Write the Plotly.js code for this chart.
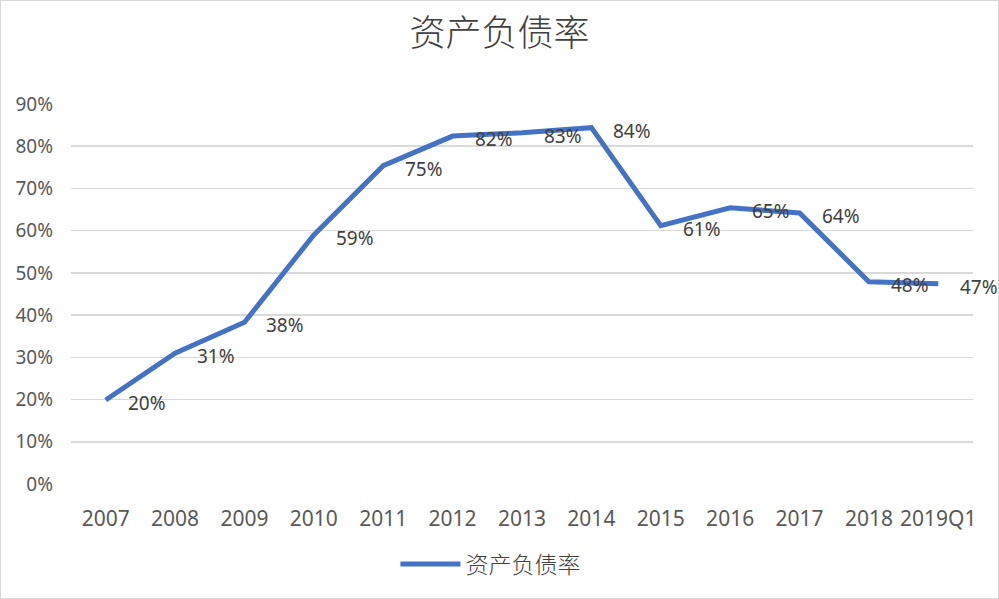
<!DOCTYPE html>
<html>
<head>
<meta charset="utf-8">
<script src="https://cdn.plot.ly/plotly-3.0.1.min.js"></script>
<style>
html,body{margin:0;padding:0;background:#fff;}
#chart{width:997px;height:597px;border:1px solid #d9d9d9;}
</style>
</head>
<body>
<div id="chart"></div>
<script>
const categories = ["2007","2008","2009","2010","2011","2012","2013","2014","2015","2016","2017","2018","2019Q1"];
const debtRatio = [0.199, 0.31, 0.383, 0.59, 0.754, 0.824, 0.832, 0.844, 0.612, 0.654, 0.642, 0.479, 0.474];
const seriesName = "资产负债率";
const chartTitle = "资产负债率";
const yTickVals = [0,0.1,0.2,0.3,0.4,0.5,0.6,0.7,0.8,0.9];
const yTickText = ["0%","10%","20%","30%","40%","50%","60%","70%","80%","90%"];

const labelFont = {family: "Noto Sans, DejaVu Sans, sans-serif", size: 19, color: "#404040"};

const trace = {
  type: "scatter",
  mode: "lines",
  x: categories,
  y: debtRatio,
  name: seriesName,
  line: {color: "#4472C4", width: 5, shape: "linear"},
  hoverinfo: "skip"
};

const annotations = categories.map((c, i) => ({
  x: i, y: debtRatio[i], xref: "x", yref: "y",
  text: Math.round(debtRatio[i] * 100) + "%",
  showarrow: false, xanchor: "left", yanchor: "middle",
  xshift: 20, yshift: -3,
  font: labelFont
}));

const layout = {
  width: 997, height: 597,
  paper_bgcolor: "#ffffff", plot_bgcolor: "#ffffff",
  margin: {l: 70, r: 25, t: 103, b: 114},
  title: {
    text: chartTitle,
    x: 0.5, xanchor: "center", y: 0.945, yanchor: "middle",
    font: {family: "Noto Sans CJK SC, sans-serif", size: 36, color: "#404040", weight: 300}
  },
  xaxis: {
    type: "category",
    range: [-0.5, 12.5],
    showgrid: false, zeroline: false,
    showline: false,
    ticks: "",
    ticklabelstandoff: 20,
    tickfont: {family: "Noto Sans, DejaVu Sans, sans-serif", size: 21, color: "#595959"},
    fixedrange: true
  },
  yaxis: {
    range: [0, 0.9],
    tickvals: yTickVals, ticktext: yTickText,
    showgrid: true, gridcolor: "#d9d9d9", gridwidth: 1.5,
    zeroline: false, showline: false, ticks: "",
    ticklabelstandoff: 17,
    tickfont: {family: "Noto Sans, DejaVu Sans, sans-serif", size: 19, color: "#595959"},
    fixedrange: true
  },
  showlegend: true,
  legend: {
    orientation: "h", x: 0.465, xanchor: "center",
    yref: "container", y: 0.057, yanchor: "middle",
    font: {family: "Noto Sans CJK SC, sans-serif", size: 23, color: "#404040", weight: 300},
    itemwidth: 60
  },
  annotations: annotations
};

Plotly.newPlot("chart", [trace], layout, {displayModeBar: false, staticPlot: true});
</script>
</body>
</html>
